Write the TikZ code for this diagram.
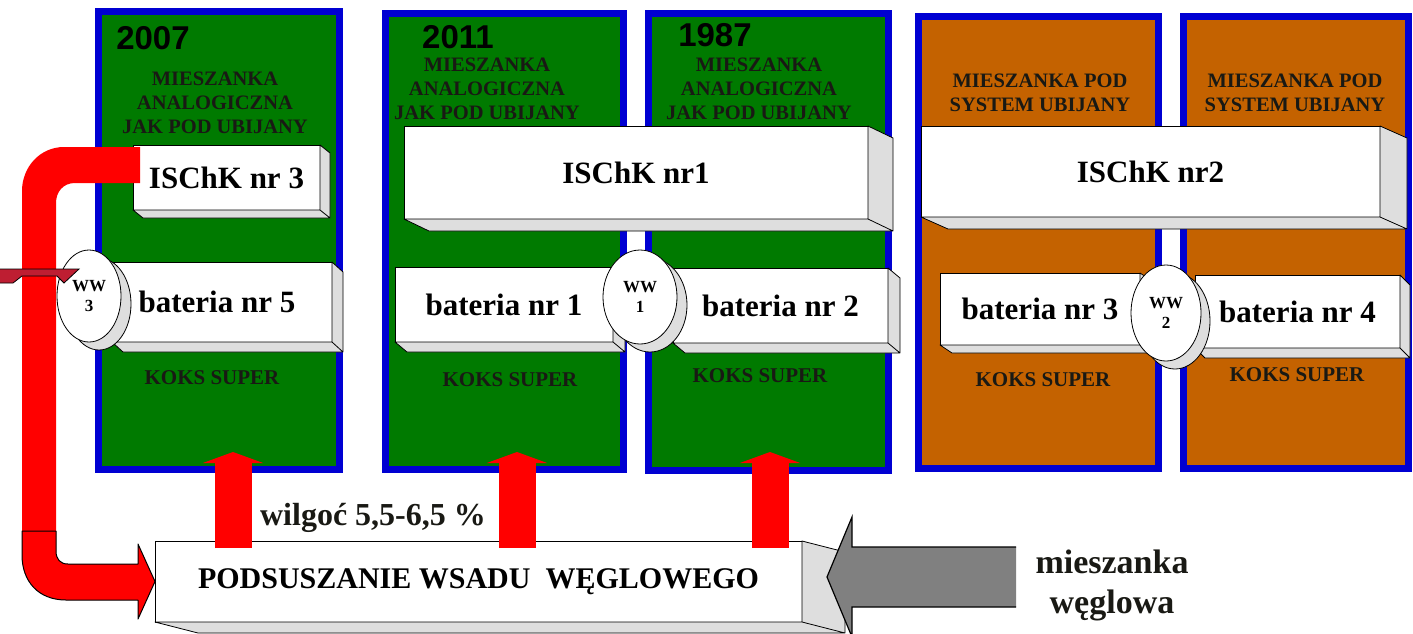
\documentclass[tikz,border=0pt]{standalone}
\usepackage{fontspec}
\setmainfont{Liberation Serif}
\newfontfamily\yearfont{Liberation Sans}
\usepackage{tikz}
\usetikzlibrary{shapes.geometric, arrows.meta}
\usetikzlibrary{calc}

\definecolor{panelgreen}{RGB}{0,122,0}
\definecolor{panelorange}{RGB}{196,98,0}
\definecolor{panelblue}{RGB}{0,0,210}
\definecolor{sidegrey}{RGB}{222,222,222}
\definecolor{millgrey}{RGB}{128,128,128}
\definecolor{pipered}{RGB}{255,0,0}
\definecolor{darkpipe}{RGB}{190,30,50}
\definecolor{labelink}{RGB}{25,25,20}

\tikzstyle{panel} = [rectangle, draw=panelblue, line width=7pt, outer sep=0pt, inner sep=0pt]
\tikzstyle{slab} = [rectangle, draw=black, fill=white, line width=1pt, outer sep=0pt, text centered, font=\fontsize{31}{33}\selectfont\bfseries]
\tikzstyle{sideface} = [fill=sidegrey, draw=black, line width=0.8pt, line join=round]
\tikzstyle{wwell} = [ellipse, draw=black, fill=white, line width=0.8pt, inner sep=0pt, align=center, font=\fontsize{17}{20}\selectfont\bfseries]
\tikzstyle{mixtext} = [align=center, text=labelink, inner sep=0pt, font=\fontsize{20.5}{24}\selectfont\bfseries]
\tikzstyle{koks} = [text=labelink, inner sep=0pt, font=\fontsize{21}{23}\selectfont\bfseries]
\tikzstyle{yearlabel} = [inner sep=0pt, font=\yearfont\fontsize{33}{35}\selectfont\bfseries]
\tikzstyle{bigtext} = [inner sep=0pt, text=labelink, font=\fontsize{30}{40}\selectfont\bfseries]
\tikzstyle{feed} = [pipered, line width=37pt, -{Triangle[width=60pt,length=11pt]}]

\begin{document}
\begin{tikzpicture}[x=1pt,y=-1pt]

\useasboundingbox (0,0) rectangle (1413,633);
\fill[white] (0,0) rectangle (1413,633);

% bloki baterii
\node (panel1) [panel, fill=panelgreen, minimum width=241pt, minimum height=458pt] at (219,240.5) {};
\node (panel2) [panel, fill=panelgreen, minimum width=238pt, minimum height=456pt] at (504.5,241.5) {};
\node (panel3) [panel, fill=panelgreen, minimum width=240pt, minimum height=457pt] at (768.5,242) {};
\node (panel4) [panel, fill=panelorange, minimum width=240pt, minimum height=452pt] at (1038.5,242.5) {};
\node (panel5) [panel, fill=panelorange, minimum width=225pt, minimum height=452pt] at (1296,242.5) {};

\node (y2007) [yearlabel] at (153,38) {2007};
\node (y2011) [yearlabel] at (458,37) {2011};
\node (y1987) [yearlabel] at (715,35) {1987};

\node (mix1) [mixtext] at (215,103) {MIESZANKA\\ANALOGICZNA\\JAK POD UBIJANY};
\node (mix2) [mixtext] at (487,89) {MIESZANKA\\ANALOGICZNA\\JAK POD UBIJANY};
\node (mix3) [mixtext] at (759,89) {MIESZANKA\\ANALOGICZNA\\JAK POD UBIJANY};
\node (mix4) [mixtext] at (1040,93) {MIESZANKA POD\\SYSTEM UBIJANY};
\node (mix5) [mixtext] at (1295,93) {MIESZANKA POD\\SYSTEM UBIJANY};

\node (koks1) [koks] at (212,378) {KOKS SUPER};
\node (koks2) [koks] at (510,380) {KOKS SUPER};
\node (koks3) [koks] at (760,376) {KOKS SUPER};
\node (koks4) [koks] at (1043,380) {KOKS SUPER};
\node (koks5) [koks] at (1297,375) {KOKS SUPER};

% instalacje i baterie
\node (ischk3) [slab, minimum width=187pt, minimum height=65pt] at (226.5,177.5) {ISChK nr 3};
\node (ischk1) [slab, minimum width=464pt, minimum height=93pt] at (636,172.5) {ISChK nr1};
\node (ischk2) [slab, minimum width=459pt, minimum height=91pt] at (1150.5,171.5) {ISChK nr2};
\node (bat5) [slab, minimum width=220pt, minimum height=80pt] at (222,302) {\hspace*{-10pt}bateria nr 5};
\node (bat1) [slab, minimum width=218pt, minimum height=75pt] at (504,304.5) {bateria nr 1};
\node (bat2) [slab, minimum width=215pt, minimum height=75pt] at (780.5,305.5) {bateria nr 2};
\node (bat3) [slab, minimum width=200pt, minimum height=72pt] at (1040,309) {bateria nr 3};
\node (bat4) [slab, minimum width=205pt, minimum height=73pt] at (1297.5,311.5) {bateria nr 4};
\node (podsus) [slab, font=\fontsize{30}{32}\selectfont\bfseries, minimum width=647pt, minimum height=81pt] at (478.5,581.5) {PODSUSZANIE WSADU~~WĘGLOWEGO};

\foreach \b/\dx/\dy in {ischk3/10/8, ischk1/25/12, ischk2/27/12, bat5/11/10, bat1/12/10, bat2/12/10, bat3/12/8, bat4/10/10, podsus/43/11}
  \filldraw[sideface] (\b.north east) -- ++(\dx,\dy) -- ($(\b.south east)+(\dx,\dy)$) -- ($(\b.south west)+(\dx,\dy)$) -- (\b.south west) -- (\b.south east) -- cycle
    (\b.south east) -- ++(\dx,\dy);

% wezly weglowe
\node (ww3s) [wwell, fill=sidegrey, minimum width=64pt, minimum height=92pt] at (99,304) {};
\node (ww3) [wwell, minimum width=64pt, minimum height=92pt] at (89,296) {WW\\3};
\node (ww1s) [wwell, fill=sidegrey, minimum width=74pt, minimum height=94pt] at (650,305) {};
\node (ww1) [wwell, minimum width=74pt, minimum height=94pt] at (640,297) {WW\\1};
\node (ww2s) [wwell, fill=sidegrey, minimum width=70pt, minimum height=96pt] at (1175,321) {};
\node (ww2) [wwell, minimum width=70pt, minimum height=96pt] at (1166,313) {WW\\2};

% wsad podsuszony do baterii
\coordinate (feed1) at (233,452);
\coordinate (feed2) at (517,452);
\coordinate (feed3) at (770,452);
\draw[feed] ($(podsus.north -| feed1)+(0,7)$) -- (feed1);
\draw[feed] ($(podsus.north -| feed2)+(0,7)$) -- (feed2);
\draw[feed] ($(podsus.north -| feed3)+(0,7)$) -- (feed3);

% rurociag z ISChK nr 3
\fill[pipered] (140,147) -- (64,147) .. controls (40,147) and (22,167) .. (22,191) -- (22,555)
  .. controls (22,581) and (38,600) .. (66,600) -- (138,600) -- (138,619) -- (podsus.west) -- (138,544) -- (138,564)
  -- (68,564) .. controls (60,564) and (56,559) .. (56,551) -- (56,203) .. controls (56,192) and (63,183) .. (75,183) -- (140,183) -- cycle;
\draw[black, line width=1pt, line join=round] (22,531) -- (22,555) .. controls (22,581) and (38,600) .. (66,600) -- (138,600) -- (138,619) -- (podsus.west) -- (138,544) -- (138,564)
  -- (68,564) .. controls (60,564) and (56,559) .. (56,551) -- (56,531) -- cycle;
\filldraw[darkpipe, draw=black, line width=0.8pt] (-2,269) -- (79,269) -- (64,283) -- (57,276) -- (22,276) -- (13,283) -- (-2,283) -- cycle;

% mieszanka weglowa
\node (coal) [bigtext, align=center, font=\fontsize{34}{40}\selectfont\bfseries] at (1112,585) {mieszanka\\węglowa};
\coordinate (coalin) at (1016,577);
\coordinate (coaltip) at (827,577);
\filldraw[fill=millgrey, draw=black, line width=1.2pt, line join=miter] ($(coalin)+(0,-30)$) -- ($(coaltip)+(25,-30)$) -- ($(coaltip)+(25,-60)$) -- (coaltip) -- ($(coaltip)+(25,60)$) -- ($(coaltip)+(25,30)$) -- ($(coalin)+(0,30)$);

\node (moist) [bigtext, font=\fontsize{32}{34}\selectfont\bfseries] at (373,518) {wilgoć 5,5-6,5 \%};

\end{tikzpicture}
\end{document}
